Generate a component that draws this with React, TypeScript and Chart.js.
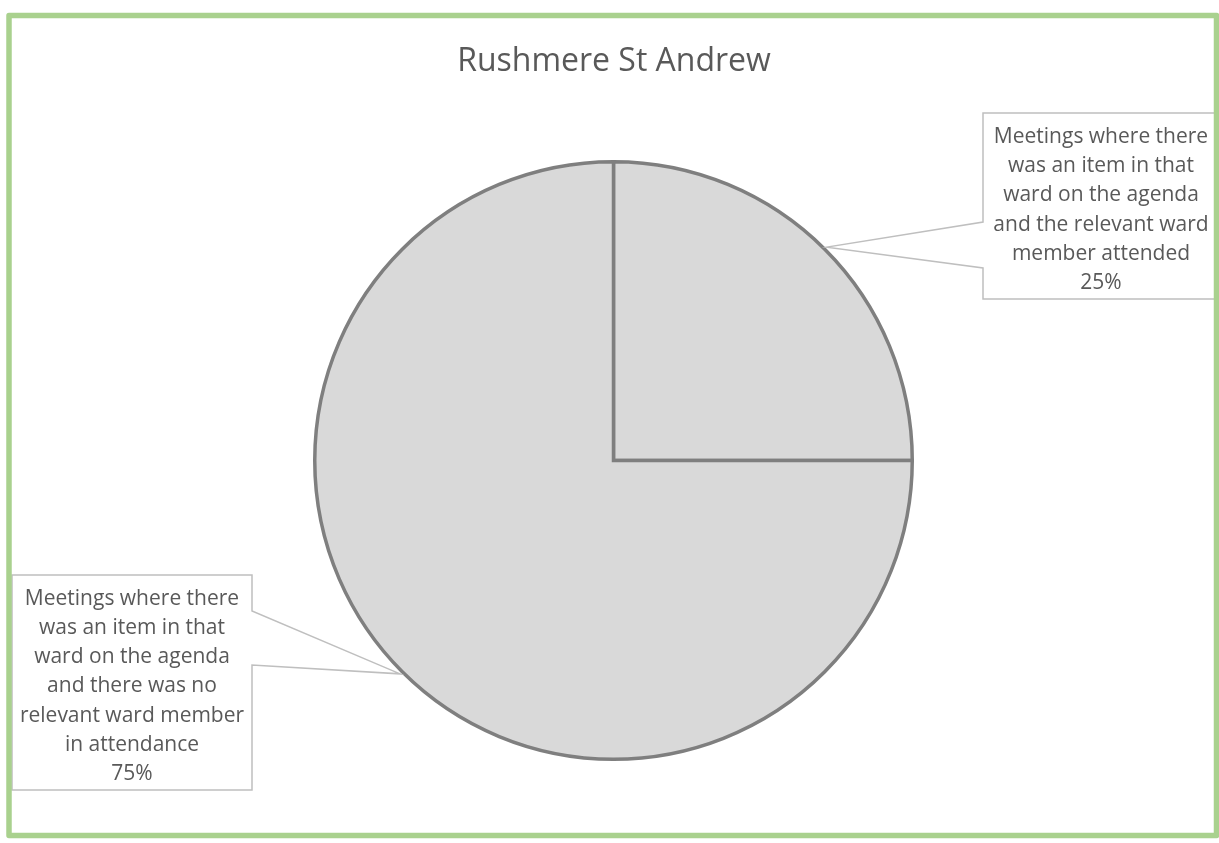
import React, { useEffect, useRef } from "react";
import { Chart, registerables } from "chart.js";

Chart.register(...registerables);

const TITLE = "Rushmere St Andrew";
const CATEGORIES: string[][] = [
  ["Meetings where there", "was an item in that", "ward on the agenda", "and the relevant ward", "member attended"],
  ["Meetings where there", "was an item in that", "ward on the agenda", "and there was no", "relevant ward member", "in attendance"],
];
const VALUES = [25, 75];

const FONT = "'Open Sans', Calibri, sans-serif";
const TEXT_COLOR = "#595959";

// callout box layout
const BOXES = [
  { l: 983, t: 113, r: 1219, b: 299, w1: 222, w2: 268, side: "left" },
  { l: 12, t: 575, r: 252, b: 790, w1: 611, w2: 665, side: "right" },
];

const calloutPlugin = {
  id: "callouts",
  afterDraw(chart: any) {
    const ctx = chart.ctx as CanvasRenderingContext2D;
    const meta = chart.getDatasetMeta(0);
    const total = VALUES.reduce((a, b) => a + b, 0);
    ctx.save();
    // title
    ctx.fillStyle = TEXT_COLOR;
    ctx.font = `32px ${FONT}`;
    ctx.textAlign = "center";
    ctx.textBaseline = "middle";
    ctx.fillText(TITLE, 614, 62);

    meta.data.forEach((arc: any, i: number) => {
      const box = BOXES[i];
      const mid = (arc.startAngle + arc.endAngle) / 2;
      const rr = arc.outerRadius + 3;
      const tx = arc.x + Math.cos(mid) * rr;
      const ty = arc.y + Math.sin(mid) * rr;
      ctx.beginPath();
      ctx.fillStyle = "#ffffff";
      ctx.strokeStyle = "#bfbfbf";
      ctx.lineWidth = 1.5;
      if (box.side === "left") {
        ctx.moveTo(box.l, box.t);
        ctx.lineTo(box.r, box.t);
        ctx.lineTo(box.r, box.b);
        ctx.lineTo(box.l, box.b);
        ctx.lineTo(box.l, box.w2);
        ctx.lineTo(tx, ty);
        ctx.lineTo(box.l, box.w1);
        ctx.closePath();
      } else {
        ctx.moveTo(box.l, box.t);
        ctx.lineTo(box.r, box.t);
        ctx.lineTo(box.r, box.w1);
        ctx.lineTo(tx, ty);
        ctx.lineTo(box.r, box.w2);
        ctx.lineTo(box.r, box.b);
        ctx.lineTo(box.l, box.b);
        ctx.closePath();
      }
      ctx.fill();
      ctx.stroke();

      const lines = [...CATEGORIES[i], `${Math.round((VALUES[i] / total) * 100)}%`];
      const lh = 29.2;
      const cx = (box.l + box.r) / 2;
      const cy = (box.t + box.b) / 2 + 4;
      ctx.fillStyle = TEXT_COLOR;
      ctx.font = `21px ${FONT}`;
      ctx.textAlign = "center";
      ctx.textBaseline = "middle";
      lines.forEach((ln, k) => {
        ctx.fillText(ln, cx, cy + (k - (lines.length - 1) / 2) * lh);
      });
    });

    // outer green frame
    ctx.strokeStyle = "#a9d18e";
    ctx.lineWidth = 5.5;
    ctx.lineJoin = "round";
    ctx.strokeRect(9, 15.5, 1216.5 - 9, 835.5 - 15.5);
    ctx.restore();
  },
};

export default function App() {
  const ref = useRef<HTMLCanvasElement | null>(null);
  useEffect(() => {
    document.body.style.margin = "0";
    const chart = new Chart(ref.current as HTMLCanvasElement, {
      type: "pie",
      data: {
        labels: CATEGORIES.map((c) => c.join(" ")),
        datasets: [
          {
            data: VALUES,
            backgroundColor: ["#d9d9d9", "#d9d9d9"],
            borderColor: "#7f7f7f",
            borderWidth: 3.5,
            borderJoinStyle: "miter",
          } as any,
        ],
      },
      options: {
        animation: false,
        responsive: false,
        layout: { padding: { top: 160, bottom: 82, left: 100, right: 92 } },
        plugins: {
          legend: { display: false },
          title: { display: false },
          tooltip: { enabled: false },
        },
      },
      plugins: [calloutPlugin],
    });
    return () => chart.destroy();
  }, []);
  return (
    <div style={{ position: "absolute", left: 0, top: 0, width: 1219, height: 843, background: "#fff" }}>
      <canvas ref={ref} width={1219} height={843} style={{ display: "block" }} />
    </div>
  );
}
